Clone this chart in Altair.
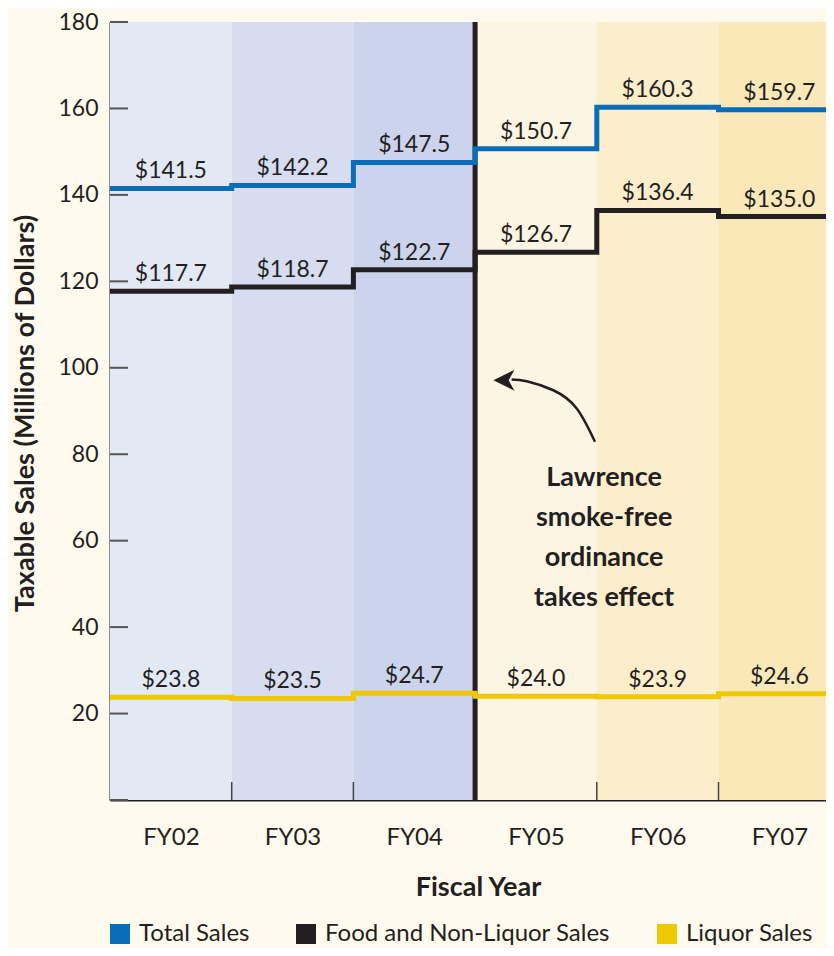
import altair as alt
import pandas as pd

# ---------------- data ----------------
years = ["FY02", "FY03", "FY04", "FY05", "FY06", "FY07"]
series_names = ["Total Sales", "Food and Non-Liquor Sales", "Liquor Sales"]
total_sales = [141.5, 142.2, 147.5, 150.7, 160.3, 159.7]
food_sales = [117.7, 118.7, 122.7, 126.7, 136.4, 135.0]
liquor_sales = [23.8, 23.5, 24.7, 24.0, 23.9, 24.6]
y_tick_values = [0, 20, 40, 60, 80, 100, 120, 140, 160, 180]
y_label_values = [20, 40, 60, 80, 100, 120, 140, 160, 180]
ordinance_year = "FY05"
annotation_text = "Lawrence\nsmoke-free\nordinance\ntakes effect"
annotation_pos = [4.06, 74.6]
arrow_x = [3.985, 3.835, 3.643, 3.424, 3.300]
arrow_y = [82.9, 90.6, 94.8, 96.9, 97.3]
arrow_head = [3.237, 97.1]

# ---------------- styles ----------------
FONT = "Lato"
INK = "#231f20"
series_colors = ["#0a6db7", "#231f20", "#f0c800"]
band_colors = ["#e3e8f5", "#d7dcf0", "#ccd3ed", "#fdf5e3", "#fcedcb", "#fae8b8"]
W, H = 716, 778
X_END = W / 121.7

n = len(years)
values_by_series = [total_sales, food_sales, liquor_sales]

rows = []
for name, vals in zip(series_names, values_by_series):
    for i, v in enumerate(vals):
        rows.append({"series": name, "x": i, "value": v})
    rows.append({"series": name, "x": n, "value": vals[-1]})
df_lines = pd.DataFrame(rows)

lab_rows = []
for name, vals in zip(series_names, values_by_series):
    for i, v in enumerate(vals):
        lab_rows.append({"series": name, "xc": i + 0.5, "value": v, "label": f"${v:.1f}"})
df_labels = pd.DataFrame(lab_rows)

df_bands = pd.DataFrame({"year": years, "x0": list(range(n)), "x1": list(range(1, n + 1))})
df_yticks = pd.DataFrame({"v": y_tick_values})
df_xticks = pd.DataFrame({"b": list(range(1, n))})
df_rule = pd.DataFrame({"b": [years.index(ordinance_year)]})
df_ann = pd.DataFrame({"x": [annotation_pos[0]], "y": [annotation_pos[1]], "t": [annotation_text]})
df_arrow = pd.DataFrame({"x": arrow_x, "y": arrow_y})
df_head = pd.DataFrame({"x": [arrow_head[0]], "y": [arrow_head[1]]})

label_expr = "[" + ",".join(f"'{y}'" for y in years) + "][floor(datum.value)]"

x_scale = alt.Scale(domain=[0, X_END], nice=False, zero=False)
y_scale = alt.Scale(domain=[0, 180], nice=False)

x_axis = alt.Axis(
    values=[i + 0.5 for i in range(n)], labelExpr=label_expr, ticks=False, grid=False,
    domainColor=INK, domainWidth=2, labelFont=FONT, labelFontSize=24, labelColor=INK,
    labelPadding=25, title="Fiscal Year", titleFont=FONT, titleFontSize=27,
    titleFontWeight="bold", titleColor=INK, titleX=368, titleY=87, titleBaseline="middle",
)
y_axis = alt.Axis(
    values=y_label_values, ticks=False, grid=False, domainColor=INK, domainWidth=2,
    labelFont=FONT, labelFontSize=23, labelColor=INK, labelPadding=12,
    title="Taxable Sales (Millions of Dollars)", titleFont=FONT, titleFontSize=27,
    titleFontWeight="bold", titleColor=INK, titleX=-85, titleY=391,
    titleBaseline="middle", titleAlign="center", titleAngle=-90,
)

# background bands, one layer per fiscal year (axes defined on the first one only)
band_layers = []
for i, (yr, col) in enumerate(zip(years, band_colors)):
    if i == 0:
        xe = alt.X("x0:Q", scale=x_scale, axis=x_axis)
        ye = alt.Y(datum=0, scale=y_scale, axis=y_axis)
    else:
        xe = alt.X("x0:Q", scale=x_scale)
        ye = alt.Y(datum=0, scale=y_scale)
    band_layers.append(
        alt.Chart(df_bands).transform_filter(alt.datum.year == yr)
        .mark_rect(clip=True, color=col)
        .encode(x=xe, x2="x1:Q", y=ye, y2=alt.Y2(datum=180))
    )

yticks = alt.Chart(df_yticks).mark_rule(color="#555555", strokeWidth=2).encode(
    y=alt.Y("v:Q", scale=y_scale), x=alt.value(0), x2=alt.value(18)
)
xticks = alt.Chart(df_xticks).mark_rule(color="#444444", strokeWidth=1.5).encode(
    x=alt.X("b:Q", scale=x_scale), y=alt.value(H - 18), y2=alt.value(H)
)
rule = alt.Chart(df_rule).mark_rule(color=INK, strokeWidth=5).encode(
    x=alt.X("b:Q", scale=x_scale), y=alt.Y(datum=0, scale=y_scale), y2=alt.Y2(datum=180)
)

# step lines, one layer per series
line_layers = []
for name, col in zip(series_names, series_colors):
    line_layers.append(
        alt.Chart(df_lines).transform_filter(alt.datum.series == name).mark_line(
            interpolate="step-after", strokeWidth=5, clip=True, strokeCap="butt",
            strokeJoin="miter", color=col
        ).encode(x=alt.X("x:Q", scale=x_scale), y=alt.Y("value:Q", scale=y_scale))
    )

# clipped squares that carry the legend
legend_src = alt.Chart(df_lines).transform_filter(alt.datum.x == n).mark_square(
    filled=True, size=10, clip=True
).encode(
    x=alt.X("x:Q", scale=x_scale),
    y=alt.Y("value:Q", scale=y_scale),
    color=alt.Color(
        "series:N", scale=alt.Scale(domain=series_names, range=series_colors),
        legend=alt.Legend(
            title=None, orient="none", direction="horizontal", legendX=-2, legendY=900,
            symbolType="square", symbolSize=400, symbolStrokeWidth=0, labelFont=FONT,
            labelFontSize=24, labelColor=INK, labelOffset=7, columnPadding=44, padding=0,
            labelLimit=400, symbolOpacity=1,
        ),
    ),
)

labels = alt.Chart(df_labels).mark_text(
    font=FONT, fontSize=23, color=INK, baseline="alphabetic", dy=-10
).encode(
    x=alt.X("xc:Q", scale=x_scale), y=alt.Y("value:Q", scale=y_scale), text="label:N"
)

ann = alt.Chart(df_ann).mark_text(
    font=FONT, fontSize=27, fontWeight="bold", color=INK, lineBreak="\n", lineHeight=40,
    baseline="middle", align="center"
).encode(x=alt.X("x:Q", scale=x_scale), y=alt.Y("y:Q", scale=y_scale), text="t:N")

arrow = alt.Chart(df_arrow).mark_line(color=INK, strokeWidth=2.5, interpolate="natural").encode(
    x=alt.X("x:Q", scale=x_scale), y=alt.Y("y:Q", scale=y_scale), order="x:Q"
)
head = alt.Chart(df_head).mark_point(
    shape="M -1 0 L 1 -1 L 0.45 0 L 1 1 Z", filled=True, size=440, color=INK, opacity=1, strokeWidth=0
).encode(x=alt.X("x:Q", scale=x_scale), y=alt.Y("y:Q", scale=y_scale))

chart = alt.layer(
    *band_layers, yticks, xticks, rule, *line_layers, legend_src, labels, ann, arrow, head
).properties(
    width=W, height=H,
    autosize=alt.AutoSizeParams(type="none"),
    padding={"left": 102, "top": 14, "right": 0, "bottom": 148},
    background="#fefaee",
).configure_view(stroke=None)

chart.save("out.html", embed_options={"renderer": "svg", "actions": False})
